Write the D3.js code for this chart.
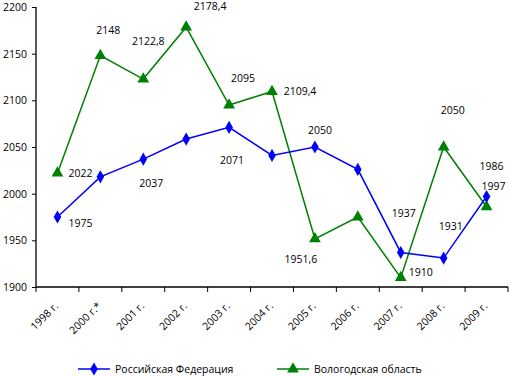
<!DOCTYPE html>
<html><head><meta charset="utf-8">
<script src="https://cdn.jsdelivr.net/npm/d3@7"></script>
<style>
body{margin:0;background:#fff;}
text{font-family:"Open Sans","Noto Sans",sans-serif;font-size:10.5px;fill:#000;}
</style></head>
<body><svg id="c" width="510" height="376"></svg>
<script>
const categories = ["1998 г.","2000 г.*","2001 г.","2002 г.","2003 г.","2004 г.","2005 г.","2006 г.","2007 г.","2008 г.","2009 г."];
const rfValues = [1975, 2018, 2037, 2058.5, 2071, 2041, 2050, 2026, 1937, 1931, 1997];
const volValues = [2022, 2148, 2122.8, 2178.4, 2095, 2109.4, 1951.6, 1975, 1910, 2050, 1986];
const rfLabels = ["1975", null, "2037", null, "2071", null, "2050", null, "1937", "1931", "1997"];
const volLabels = ["2022", "2148", "2122,8", "2178,4", "2095", "2109,4", "1951,6", null, "1910", "2050", "1986"];
const yTicks = [1900, 1950, 2000, 2050, 2100, 2150, 2200];
const seriesNames = ["Российская Федерация", "Вологодская область"];
// label offsets (layout only)
const rfLabelOffsets = [[23,6],null,[8,24],null,[3,33],null,[5,-17],null,[3,-39],[7,-32],[7,-10]];
const volLabelOffsets = [[23,0],[8,-25],[5,-38],[24,-21],[14,-27],[28,0],[-14,20],null,[20,-5],[9,-37],[5,-40]];

const svg = d3.select("#c");
const x = d3.scaleBand().domain(categories).range([36, 508]);
const y = d3.scaleLinear().domain([1900, 2200]).range([287, 7]);
const cx = d => x(d) + x.bandwidth()/2;

// y axis
const ya = svg.append("g").attr("transform","translate(36,0)")
  .call(d3.axisLeft(y).tickValues(yTicks).tickSize(4).tickFormat(d3.format("d")));
ya.selectAll("path,line").attr("stroke","#000");
ya.select(".domain").attr("d","M0,7V287").attr("stroke-width",1.3);
ya.selectAll("text").attr("x",-9).style("font-size","10.5px").style("font-family",'"Open Sans","Noto Sans",sans-serif');

// x axis
const xa = svg.append("g").attr("transform","translate(0,287)");
xa.append("line").attr("x1",36).attr("x2",508).attr("stroke","#000").attr("stroke-width",1.3);
const tickPos = categories.map(c => x(c)).concat([x(categories[categories.length-1]) + x.bandwidth()]);
xa.selectAll("line.t").data(tickPos).enter().append("line").attr("class","t")
  .attr("x1",d=>d).attr("x2",d=>d).attr("y1",0).attr("y2",5).attr("stroke","#000");
xa.selectAll("text.xl").data(categories).enter().append("text").attr("class","xl")
  .attr("text-anchor","end")
  .attr("transform", d => `translate(${cx(d)-1},${17}) rotate(-45)`)
  .attr("dy","0.35em")
  .text(d=>d);

const line = d3.line().x((d,i)=>cx(categories[i])).y(d=>y(d));

function drawSeries(vals, color, sym, size){
  svg.append("path").datum(vals).attr("d",line).attr("fill","none").attr("stroke",color).attr("stroke-width",1.5);
  svg.selectAll(null).data(vals).enter().append("path")
    .attr("d", d3.symbol().type(sym).size(size))
    .attr("transform",(d,i)=>`translate(${cx(categories[i])},${y(d)})`)
    .attr("fill",color);
}
drawSeries(volValues, "#008000", d3.symbolTriangle, 60);
drawSeries(rfValues, "#0000FF", d3.symbolDiamond, 50);

function drawLabels(vals, labels, offs){
  vals.forEach((v,i)=>{
    if(!labels[i]) return;
    svg.append("text").attr("x", cx(categories[i]) + offs[i][0]).attr("y", y(v) + offs[i][1])
      .attr("dy","0.35em").attr("text-anchor","middle").text(labels[i]);
  });
}
drawLabels(rfValues, rfLabels, rfLabelOffsets);
drawLabels(volValues, volLabels, volLabelOffsets);

// legend
const leg = svg.append("g");
const legItems = [
  {name: seriesNames[0], color:"#0000FF", sym:d3.symbolDiamond, size:50, x0:78},
  {name: seriesNames[1], color:"#008000", sym:d3.symbolTriangle, size:60, x0:277}
];
legItems.forEach(it=>{
  leg.append("line").attr("x1",it.x0).attr("x2",it.x0+32).attr("y1",369).attr("y2",369).attr("stroke",it.color).attr("stroke-width",1.5);
  leg.append("path").attr("d",d3.symbol().type(it.sym).size(it.size)()).attr("transform",`translate(${it.x0+16},369)`).attr("fill",it.color);
  leg.append("text").attr("x",it.x0+37).attr("y",369).attr("dy","0.35em").text(it.name);
});
</script></body></html>
